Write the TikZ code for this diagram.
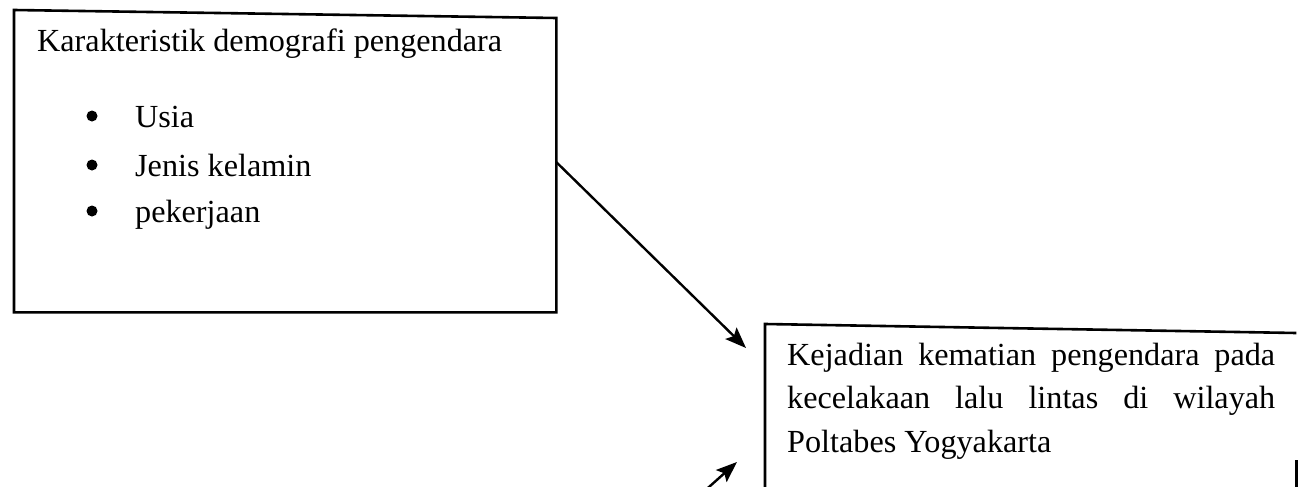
\documentclass[tikz,border=0pt]{standalone}
\usepackage{fontspec}
\setmainfont{Liberation Serif}
\usetikzlibrary{arrows.meta,calc}
\begin{document}
\begin{tikzpicture}[x=1pt,y=-1pt,
  boxline/.style={line width=2.6pt, line join=miter},
  boxnode/.style={draw=none, inner sep=0pt, anchor=north west},
  txt/.style={inner sep=0pt, anchor=base west, font=\fontsize{32.2}{43.5}\selectfont},
  dotb/.style={circle, fill=black, inner sep=0pt, minimum size=11pt},
  arr/.style={line width=2.4pt, -{Stealth[length=21pt,width=16pt,inset=4pt]}}]
\useasboundingbox (0,0) rectangle (1298,487);
\clip (0,0) rectangle (1298,487);
% box 1
\node[boxnode, minimum width=542pt, minimum height=300pt] (b1) at (14,12) {};
\draw[boxline] ($(b1.north west)+(0,-2)$) -- ($(b1.north east)+(0,6)$) -- (b1.south east) -- (b1.south west) -- cycle;
\node[txt] (t1) at (37,52) {Karakteristik demografi pengendara};
\node[dotb] (d1) at (92,116) {};
\node[dotb] (d2) at (92,165) {};
\node[dotb] (d3) at (92,211) {};
\node[txt] (i1) at (135,127) {Usia};
\node[txt] (i2) at (135,176) {Jenis kelamin};
\node[txt] (i3) at (135,222) {pekerjaan};
% box 2
\node[boxnode, minimum width=531pt, minimum height=200pt] (b2) at (765,328) {};
\draw[boxline] (b2.south west) -- ($(b2.north west)+(0,-4)$) -- ($(b2.north east)+(0,5)$);
\draw[boxline] ($(b2.north east)+(0,132)$) -- (b2.south east);
\node[txt] (t2) at (787,365) {\parbox[t]{488pt}{\hyphenpenalty=10000 Kejadian kematian pengendara pada\linebreak kecelakaan lalu lintas di wilayah\linebreak Poltabes Yogyakarta}};
% arrows
\coordinate (h1) at (746,348);
\draw[arr] (b1.east) -- (h1);
\coordinate (s2) at (700,495);
\coordinate (h2) at (737,462);
\draw[arr] (s2) -- (h2);
\end{tikzpicture}
\end{document}
